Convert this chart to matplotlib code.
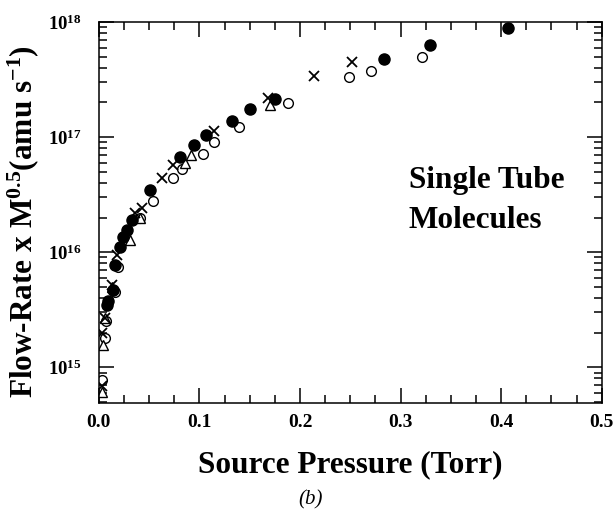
import numpy as np
import matplotlib
matplotlib.use("Agg")
import matplotlib.pyplot as plt
from matplotlib.ticker import LogLocator, MultipleLocator, NullFormatter

plt.rcParams['font.family'] = 'Liberation Serif'
plt.rcParams['mathtext.fontset'] = 'custom'
plt.rcParams['mathtext.rm'] = 'Liberation Serif:bold'
plt.rcParams['mathtext.bf'] = 'Liberation Serif:bold'
plt.rcParams['mathtext.it'] = 'Liberation Serif:bold:italic'
plt.rcParams['mathtext.default'] = 'bf'

# Data (pressure in Torr, flow-rate x M^0.5 in amu/s)

filled_x = [0.0083, 0.0093, 0.0136, 0.016, 0.021, 0.024, 0.0275, 0.0325, 0.0507,
            0.0805, 0.0946, 0.107, 0.132, 0.150, 0.175, 0.284, 0.329, 0.4066]
filled_y = [3.5e15, 3.8e15, 4.7e15, 7.7e15, 1.11e16, 1.35e16, 1.55e16, 1.9e16, 3.5e16,
            6.7e16, 8.5e16, 1.04e17, 1.39e17, 1.74e17, 2.13e17, 4.8e17, 6.3e17, 8.8e17]

open_x = [0.0027, 0.006, 0.007, 0.016, 0.019, 0.041, 0.0534, 0.074, 0.083,
          0.104, 0.114, 0.139, 0.188, 0.249, 0.271, 0.321]
open_y = [7.7e14, 1.8e15, 2.5e15, 4.5e15, 7.45e15, 1.97e16, 2.8e16, 4.37e16, 5.3e16,
          7.1e16, 9.1e16, 1.23e17, 1.99e17, 3.35e17, 3.75e17, 5.0e17]

cross_x = [0.0027, 0.0027, 0.006, 0.0126, 0.0176, 0.036, 0.0425, 0.0623, 0.074,
           0.114, 0.168, 0.2137, 0.252]
cross_y = [6.9e14, 2.0e15, 2.7e15, 5.2e15, 9.4e15, 2.17e16, 2.4e16, 4.37e16, 5.7e16,
           1.13e17, 2.17e17, 3.4e17, 4.46e17]

tri_x = [0.0027, 0.0043, 0.006, 0.013, 0.031, 0.041, 0.0855, 0.092, 0.170]
tri_y = [6.1e14, 1.55e15, 2.7e15, 5.0e15, 1.27e16, 1.97e16, 6.0e16, 6.96e16, 1.9e17]

x_ticks = [0.0, 0.1, 0.2, 0.3, 0.4, 0.5]
x_ticklabels = ['0.0', '0.1', '0.2', '0.3', '0.4', '0.5']
y_ticks = [1e15, 1e16, 1e17, 1e18]
y_ticklabels = [r'$10^{15}$', r'$10^{16}$', r'$10^{17}$', r'$10^{18}$']

fig = plt.figure(figsize=(6.14, 5.12), dpi=100)
ax = fig.add_axes([0.161, 0.213, 0.819, 0.744])

ax.plot(open_x, open_y, 'o', mfc='white', mec='black', mew=1.0, ms=7, ls='none')
ax.plot(tri_x, tri_y, '^', mfc='white', mec='black', mew=1.0, ms=7, ls='none')
ax.plot(cross_x, cross_y, 'x', color='black', mew=1.3, ms=7, ls='none')
ax.plot(filled_x, filled_y, 'o', color='black', ms=8, ls='none')

ax.set_yscale('log')
ax.set_xlim(0, 0.5)
ax.set_ylim(4.9e14, 1e18)

ax.set_xticks(x_ticks)
ax.set_xticklabels(x_ticklabels, fontweight='bold', fontsize=14)
ax.xaxis.set_minor_locator(MultipleLocator(0.025))
ax.set_yticks(y_ticks)
ax.set_yticklabels(y_ticklabels, fontsize=13.5)
ax.yaxis.set_minor_locator(LogLocator(base=10, subs=np.arange(2, 10), numticks=20))
ax.yaxis.set_minor_formatter(NullFormatter())

ax.tick_params(which='both', direction='in', top=True, right=True, width=1.1)
ax.tick_params(which='major', length=10.5)
ax.tick_params(axis='x', which='major', pad=8)
ax.tick_params(axis='y', which='major', pad=12.5)
ax.tick_params(which='minor', length=5.5)
for s in ax.spines.values():
    s.set_linewidth(1.1)

ax.set_xlabel('Source Pressure (Torr)', fontsize=22.5, fontweight='bold', labelpad=14)
ax.set_ylabel(r'Flow-Rate x M$^{0.5}$(amu s$^{-1}$)', fontsize=22.5, fontweight='bold')
ax.yaxis.set_label_coords(-0.115, 0.475)

ax.text(0.308, 4.2e16, 'Single Tube', fontsize=22.5, fontweight='bold', ha='left', va='center')
ax.text(0.308, 1.9e16, 'Molecules', fontsize=22.5, fontweight='bold', ha='left', va='center')

fig.text(0.505, 0.023, '(b)', fontsize=15, style='italic', ha='center', va='center')

fig.savefig('out.png', dpi=100)
